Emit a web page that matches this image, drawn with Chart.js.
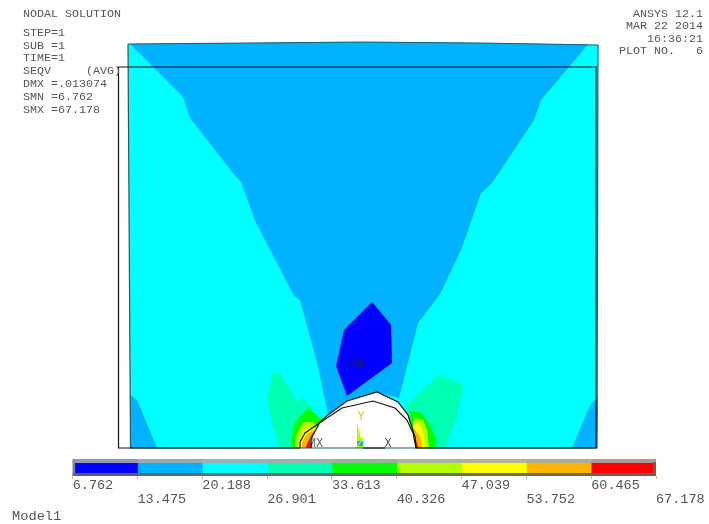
<!DOCTYPE html>
<html>
<head>
<meta charset="utf-8">
<title>Nodal solution</title>
<script src="https://cdn.jsdelivr.net/npm/chart.js@4/dist/chart.umd.js"></script>
<style>
  html, body { margin: 0; padding: 0; background: #fff; }
  #page { position: relative; width: 709px; height: 524px; overflow: hidden; }
  canvas { position: absolute; left: 0; }
  .note {
    position: absolute;
    font-family: "Liberation Mono", monospace;
    font-size: 11.67px;
    line-height: 13px;
    color: #555;
    white-space: pre;
  }
</style>
</head>
<body>
<div id="page">
  <canvas id="contour" width="709" height="524" style="top:0"></canvas>
  <canvas id="colorBar" width="709" height="74" style="top:450px"></canvas>
</div>
<script>
// contour levels and their legend
const levels = [6.762, 13.475, 20.188, 26.901, 33.613, 40.326, 47.039, 53.752, 60.465, 67.178];
const levelLabels = ["6.762", "13.475", "20.188", "26.901", "33.613", "40.326", "47.039", "53.752", "60.465", "67.178"];
const bandColors = ["#0000ff", "#00b2ff", "#00ffff", "#00ffb2", "#00ff00", "#b2ff00", "#ffff00", "#ffb200", "#ff0000"];

// header texts
const infoLeft = ["NODAL SOLUTION", "STEP=1", "SUB =1", "TIME=1", "SEQV     (AVG)", "DMX =.013074", "SMN =6.762", "SMX =67.178"];
const infoRight = ["ANSYS 12.1", "MAR 22 2014", "16:36:21", "PLOT NO.   6"];

// model outlines, [x, y] in plot units with origin at the triad
const bodyOutline = [[-229, 404], [-107, 405], [3, 406], [123, 405], [241, 403], [240, 0], [-226.5, 0]];
const holeOutline = [[-46, 0], [-45, 11], [-37, 26], [-29, 33], [-10, 47], [20, 56], [41, 46], [51, 33], [58, 11], [59, 0]];
const undeformedShape = [[-57, 0], [-238.5, 0], [-238.5, 381], [239, 381], [239, 0], [59, 0], [56, 15], [50, 28], [38, 40], [16, 47], [-15, 40], [-39, 24], [-52, 15], [-57, 6]];

// stress regions, [x, y] in the same units
const band2Centre = [[-227, 404], [-107, 405], [3, 406], [123, 405], [231, 403.5], [184, 348], [177, 328], [135, 265], [124, 255], [104, 198], [83, 154], [61, 125], [42, 50], [20, 56], [-29, 33], [-39, 81], [-57, 148], [-63, 152], [-102, 227], [-116, 266], [-125, 276], [-167, 330], [-174, 351]];
const band2CornerLeft = [[-227, 53], [-220, 48], [-200, 0], [-226.5, 0]];
const band2CornerRight = [[241, 51], [233, 43], [215, 0], [240, 0]];
const band1Core = [[15, 146], [34, 123], [35, 85], [-10, 52], [-21, 82], [-13, 118]];

const band4Left = [[-84, 76], [-77, 75], [-59, 45], [-55, 52], [-39, 30], [-30, 32], [-40, 0], [-77, 0], [-85, 24], [-90, 51], [-87, 63]];
const band5Left = [[-49, 40], [-62, 26], [-66, 11], [-66, 0], [-30, 0], [-35, 28]];
const band6Left = [[-54, 26], [-61, 13], [-62, 0], [-30, 0], [-36, 20], [-45, 26]];
const band7Left = [[-52, 20], [-58, 10], [-59, 0], [-30, 0], [-40, 20]];
const band8Left = [[-50, 14], [-55, 6], [-55, 0], [-35, 0], [-43, 18]];
const band9Left = [[-46, 12], [-50, 4], [-51, 0], [-40, 0], [-43, 16]];

const band4Right = [[81, 73], [106, 63], [100, 33], [88, 0], [58, 0], [48, 41]];
const band5Right = [[53, 36], [63, 36], [71, 26], [78, 11], [78, 0], [55, 0]];
const band6Right = [[56, 30], [66, 28], [70, 18], [72, 0], [57, 0]];
const band7Right = [[56, 26], [63, 23], [67, 13], [68, 0], [57, 0]];
const band8Right = [[56, 21], [63, 11], [65, 0], [57, 0]];
const band9Right = [[58, 12], [61, 0], [57, 0]];

// triad and min/max markers
const triadY = [[0, 26], [0, 0], [6, 0]];
const triadZ = [[0, 0], [6, 0], [6, 7], [0, 7]];
const triadX = [[6, 0], [28, 0]];
const markTexts = ["MN", "MX", "Y", "Z", "X"];
const markX = [0, -41, 4, 3, 31];
const markY = [83, 4, 31, 4, 4];
const markColors = ["#1a1a66", "#666", "#a8d840", "#b2ff00", "#555"];

// put the header texts on the page
const page = document.getElementById("page");
const leftTops = [8, 27, 40, 52, 65, 78, 91, 104];
const rightTops = [8, 20, 33, 45];
infoLeft.forEach((line, i) => {
  const el = document.createElement("div");
  el.className = "note";
  el.textContent = line;
  el.style.left = "23px";
  el.style.top = leftTops[i] + "px";
  page.appendChild(el);
});
infoRight.forEach((line, i) => {
  const el = document.createElement("div");
  el.className = "note";
  el.textContent = line;
  el.style.right = "6px";
  el.style.top = rightTops[i] + "px";
  page.appendChild(el);
});
const model = document.createElement("div");
model.className = "note";
model.textContent = "Model1";
model.style.cssText = "left:12px;top:510px;font-size:13.7px;";
page.appendChild(model);

const closed = (pts) => pts.concat([pts[0]]).map(([x, y]) => ({ x, y }));
const area = (pts, color) => ({
  data: closed(pts),
  showLine: true,
  fill: "shape",
  backgroundColor: color,
  borderWidth: 0,
  pointRadius: 0,
});
const outline = (pts, color, width) => ({
  data: pts.map(([x, y]) => ({ x, y })),
  showLine: true,
  fill: false,
  borderColor: color,
  borderWidth: width,
  pointRadius: 0,
});

// back to front, reversed below because Chart.js paints the first dataset last
const layers = [
  area(bodyOutline, bandColors[2]),
  area(band2Centre, bandColors[1]),
  area(band2CornerLeft, bandColors[1]),
  area(band2CornerRight, bandColors[1]),
  area(band1Core, bandColors[0]),
  area(band4Left, bandColors[3]),
  area(band5Left, bandColors[4]),
  area(band6Left, bandColors[5]),
  area(band7Left, bandColors[6]),
  area(band8Left, bandColors[7]),
  area(band9Left, bandColors[8]),
  area(band4Right, bandColors[3]),
  area(band5Right, bandColors[4]),
  area(band6Right, bandColors[5]),
  area(band7Right, bandColors[6]),
  area(band8Right, bandColors[7]),
  area(band9Right, bandColors[8]),
  area(holeOutline, "#ffffff"),
  outline(closed(bodyOutline).map((p) => [p.x, p.y]), "#14606e", 1.2),
  outline(holeOutline, "#111111", 1.2),
  outline(closed(undeformedShape).map((p) => [p.x, p.y]), "#111111", 1.2),
  area(triadY, bandColors[5]),
  area(triadZ, bandColors[1]),
  outline(triadX, "#222222", 1.2),
];

const markLabels = {
  id: "markLabels",
  afterDatasetsDraw(chart) {
    const { ctx, scales } = chart;
    ctx.save();
    ctx.font = '12px "Liberation Mono", monospace';
    ctx.textAlign = "center";
    ctx.textBaseline = "middle";
    markTexts.forEach((text, i) => {
      ctx.fillStyle = markColors[i];
      ctx.fillText(text, scales.x.getPixelForValue(markX[i]), scales.y.getPixelForValue(markY[i]));
    });
    ctx.restore();
  },
};

new Chart(document.getElementById("contour"), {
  type: "scatter",
  data: { datasets: layers.reverse() },
  plugins: [markLabels],
  options: {
    responsive: false,
    animation: false,
    layout: { padding: 0 },
    plugins: { legend: { display: false }, tooltip: { enabled: false } },
    scales: {
      x: { type: "linear", min: -357, max: 352, display: false },
      y: { type: "linear", min: -76, max: 448, display: false },
    },
  },
});

// grey bevel round the colour bar
const barBevel = {
  id: "barBevel",
  afterDatasetsDraw(chart) {
    const { ctx, chartArea: a } = chart;
    ctx.save();
    ctx.fillStyle = "rgba(170,170,170,0.88)";
    ctx.fillRect(a.left, a.top, a.width, 4);
    ctx.fillStyle = "rgba(140,140,150,0.9)";
    ctx.fillRect(a.left, a.top, 2.5, a.height);
    ctx.fillStyle = "rgba(100,100,100,0.92)";
    ctx.fillRect(a.left, a.bottom - 3, a.width, 3);
    ctx.fillRect(a.right - 3, a.top + 3, 3, a.height - 3);
    ctx.restore();
  },
};

new Chart(document.getElementById("colorBar"), {
  type: "bar",
  data: {
    labels: [""],
    datasets: bandColors.map((color, i) => ({
      data: [[levels[i], levels[i + 1]]],
      backgroundColor: color,
      borderWidth: 0,
      barPercentage: 1,
      categoryPercentage: 1,
      grouped: false,
    })),
  },
  plugins: [barBevel],
  options: {
    indexAxis: "y",
    responsive: false,
    animation: false,
    layout: { padding: { left: 72.7, right: 53, top: 9, bottom: 0 } },
    plugins: { legend: { display: false }, tooltip: { enabled: false } },
    scales: {
      y: { display: false },
      x: {
        type: "linear",
        min: levels[0],
        max: levels[levels.length - 1],
        afterBuildTicks(axis) {
          axis.ticks = levels.map((value) => ({ value }));
        },
        // layout caps the axis at half the canvas, the two label rows need more
        afterFit(axis) {
          axis.height = 48;
        },
        border: { display: false },
        grid: { drawOnChartArea: false, tickLength: 3, color: "#b8b8b8" },
        ticks: {
          autoSkip: false,
          maxRotation: 0,
          minRotation: 0,
          align: "start",
          padding: 0,
          color: "#555",
          font: { family: '"Liberation Mono", monospace', size: 13.5, lineHeight: 1 },
          callback: (value, i) => (i % 2 === 0 ? [levelLabels[i], ""] : ["", levelLabels[i]]),
        },
      },
    },
  },
});
</script>
</body>
</html>
